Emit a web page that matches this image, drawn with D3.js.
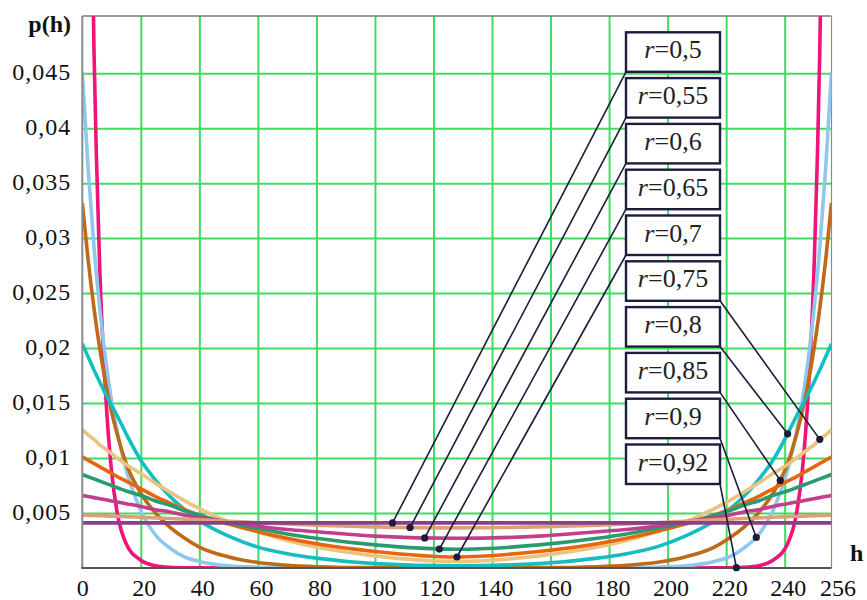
<!DOCTYPE html>
<html><head><meta charset="utf-8">
<script src="https://cdn.jsdelivr.net/npm/d3@7"></script>
<style>body{margin:0;background:#fff;} svg{display:block;} text{font-family:"Liberation Serif","Tinos","Times New Roman",serif;}</style>
</head><body>
<svg id="chart" width="867" height="600"></svg>
<script>
// ---------- data ----------
const hValues = [0,2,4,6,8,10,12,15,20,25,30,35,40,50,60,70,80,100,128,156,176,186,196,206,216,221,226,231,236,241,244,246,248,250,252,254,256];
const xTickValues = [0,20,40,60,80,100,120,140,160,180,200,220,240,256];
const yTickValues = [0.005,0.01,0.015,0.02,0.025,0.03,0.035,0.04,0.045];
const rLabels = ["0,5","0,55","0,6","0,65","0,7","0,75","0,8","0,85","0,9","0,92"];
const dotH = [106,112,117,122,128,252,241,238.5,230.3,223.5];

const p050 = [0.0041,0.0041,0.0041,0.0041,0.0041,0.0041,0.0041,0.0041,0.0041,0.0041,0.0041,0.0041,0.0041,0.0041,0.0041,0.0041,0.0041,0.0041,0.0041,
              0.0041,0.0041,0.0041,0.0041,0.0041,0.0041,0.0041,0.0041,0.0041,0.0041,0.0041,0.0041,0.0041,0.0041,0.0041,0.0041,0.0041,0.0041];
const p055 = [0.0048,0.00479,0.00478,0.00476,0.00474,0.00472,0.0047,0.00467,0.00462,0.00456,0.0045,0.00444,0.00438,0.00425,0.00412,0.004,0.0039,0.00374,0.00365,
              0.00374,0.0039,0.004,0.00412,0.00425,0.00438,0.00444,0.0045,0.00456,0.00462,0.00467,0.0047,0.00472,0.00474,0.00476,0.00478,0.00479,0.0048];
const p060 = [0.0066,0.0065,0.0064,0.0063,0.0062,0.0061,0.006,0.00585,0.0056,0.0053,0.0051,0.0048,0.0046,0.0042,0.0038,0.0035,0.0033,0.0029,0.0027,
              0.0029,0.0033,0.0035,0.0038,0.0042,0.0046,0.0048,0.0051,0.0053,0.0056,0.00585,0.006,0.0061,0.0062,0.0063,0.0064,0.0065,0.0066];
const p065 = [0.0085,0.0083,0.0081,0.0079,0.0077,0.0075,0.0073,0.007,0.0066,0.0061,0.0057,0.0052,0.0048,0.0041,0.0036,0.0031,0.0027,0.0021,0.0017,
              0.0021,0.0027,0.0031,0.0036,0.0041,0.0048,0.0052,0.0057,0.0061,0.0066,0.007,0.0073,0.0075,0.0077,0.0079,0.0081,0.0083,0.0085];
const p070 = [0.0101,0.0098,0.0095,0.0092,0.0089,0.0086,0.0083,0.0079,0.0072,0.0065,0.0059,0.0053,0.0048,0.004,0.0033,0.0027,0.0022,0.0015,0.001,
              0.0015,0.0022,0.0027,0.0033,0.004,0.0048,0.0053,0.0059,0.0065,0.0072,0.0079,0.0083,0.0086,0.0089,0.0092,0.0095,0.0098,0.0101];
const p075 = [0.0126,0.0121,0.0117,0.0112,0.0108,0.0104,0.01,0.0094,0.0086,0.0077,0.0069,0.0061,0.0054,0.0042,0.0033,0.0025,0.0019,0.0011,0.0006,
              0.0011,0.0019,0.0025,0.0033,0.0042,0.0054,0.0061,0.0069,0.0077,0.0086,0.0094,0.01,0.0104,0.0108,0.0112,0.0117,0.0121,0.0126];
const p080 = [0.0204,0.0192,0.018,0.0169,0.0158,0.0148,0.0138,0.0122,0.0098,0.008,0.0065,0.0053,0.0043,0.0029,0.0019,0.0013,0.0009,0.0004,0.0002,
              0.0004,0.0009,0.0013,0.0019,0.0029,0.0043,0.0053,0.0065,0.008,0.0098,0.0122,0.0138,0.0148,0.0158,0.0169,0.018,0.0192,0.0204];
const p085 = [0.0332,0.028,0.0236,0.0199,0.0168,0.0142,0.0121,0.0095,0.0068,0.005,0.0037,0.0027,0.0019,0.001,0.0005,0.00025,0.00012,0.00003,0.00001,
              0.00003,0.00012,0.00025,0.0005,0.001,0.0019,0.0027,0.0037,0.005,0.0068,0.0095,0.0121,0.0142,0.0168,0.0199,0.0236,0.028,0.0332];
const p090 = [0.0451,0.0363,0.0292,0.0235,0.0189,0.0152,0.0123,0.0089,0.0052,0.003,0.0018,0.001,0.0006,0.0002,0.00007,0.00003,0.00001,0,0,
              0,0.00001,0.00003,0.00007,0.0002,0.0006,0.001,0.0018,0.003,0.0052,0.0089,0.0123,0.0152,0.0189,0.0235,0.0292,0.0363,0.0451];
const p092 = [0.14,0.082,0.047,0.027,0.0157,0.0088,0.0049,0.0022,0.0007,0.0002,0.00006,0.00002,0.00001,0,0,0,0,0,0,
              0,0,0,0,0,0.00001,0.00002,0.00006,0.0002,0.0007,0.0022,0.0049,0.0088,0.0157,0.027,0.047,0.082,0.14];

const seriesList = [p050,p055,p060,p065,p070,p075,p080,p085,p090,p092];
const seriesColors = ["#8a3f87","#d9a27a","#c23f8e","#2a9a70","#e8650f","#eec27f","#14bec0","#bf6a18","#8ec8ec","#f0147a"];

// ---------- drawing ----------
const svg = d3.select("#chart");
const x = d3.scaleLinear().domain([0,256]).range([82.3,831.5]);
const y = d3.scaleLinear().domain([0,0.0502]).range([568,16]);
const green = "#3fdc5f";

// gridlines
const gx = svg.append("g").attr("transform","translate(0,568)")
  .call(d3.axisBottom(x).tickValues(xTickValues.filter(t=>t>0&&t<256)).tickSize(-552).tickFormat(""));
gx.select(".domain").remove();
gx.selectAll("line").attr("stroke",green).attr("stroke-width",2);
const gy = svg.append("g").attr("transform","translate(82.3,0)")
  .call(d3.axisLeft(y).tickValues(yTickValues).tickSize(-(831.5-82.3)).tickFormat(""));
gy.select(".domain").remove();
gy.selectAll("line").attr("stroke",green).attr("stroke-width",2);

// frame
svg.append("line").attr("x1",82.3).attr("x2",831.5).attr("y1",16).attr("y2",16).attr("stroke","#7a7a7a").attr("stroke-width",1.5);
svg.append("line").attr("x1",831.5).attr("x2",831.5).attr("y1",16).attr("y2",568).attr("stroke","#9a8a6a").attr("stroke-width",1.2);

// curves
svg.append("defs").append("clipPath").attr("id","plotclip").append("rect")
  .attr("x",82.3).attr("y",16).attr("width",831.5-82.3).attr("height",552);
const line = d3.line().x(d=>x(d[0])).y(d=>y(d[1])).curve(d3.curveMonotoneX);
const curveG = svg.append("g").attr("clip-path","url(#plotclip)");
const paths = [];
for (let i = seriesList.length-1; i >= 0; i--) {
  const pts = hValues.map((h,j)=>[h, seriesList[i][j]]);
  paths[i] = curveG.append("path").attr("d", line(pts)).attr("fill","none")
    .attr("stroke", seriesColors[i]).attr("stroke-width",3.6).attr("stroke-linejoin","round");
}

// axes lines
svg.append("line").attr("x1",82.3).attr("x2",82.3).attr("y1",16).attr("y2",568).attr("stroke","#8a8a8a").attr("stroke-width",2);
svg.append("line").attr("x1",81.3).attr("x2",831.5).attr("y1",568).attr("y2",568).attr("stroke","#555").attr("stroke-width",2);

// tick labels
const ax = svg.append("g").attr("transform","translate(0,568)")
  .call(d3.axisBottom(x).tickValues(xTickValues).tickSize(0).tickPadding(11).tickFormat(d=>String(d)));
ax.select(".domain").remove();
ax.selectAll("text").attr("font-size",24).attr("fill","#111")
  .attr("dx", d => d===256 ? 6 : (d===0 ? 0 : 3));
const ay = svg.append("g").attr("transform","translate(82.3,0)")
  .call(d3.axisLeft(y).tickValues(yTickValues).tickSize(0).tickPadding(11).tickFormat(d=>d3.format(".3~f")(d).replace(".",",")));
ay.select(".domain").remove();
ay.selectAll("text").attr("font-size",24).attr("letter-spacing",1).attr("fill","#111").attr("dy","0.25em");

svg.append("text").attr("x",71).attr("y",32).attr("text-anchor","end")
  .attr("font-size",24).attr("font-weight","bold").attr("fill","#111").text("p(h)");
svg.append("text").attr("x",850).attr("y",561)
  .attr("font-size",24).attr("font-weight","bold").attr("fill","#111").text("h");

// find point on a path at given x
function pointAtX(pathNode, px) {
  const L = pathNode.getTotalLength();
  let lo = 0, hi = L;
  for (let k = 0; k < 40; k++) {
    const mid = (lo+hi)/2;
    const p = pathNode.getPointAtLength(mid);
    if (p.x < px) lo = mid; else hi = mid;
  }
  return pathNode.getPointAtLength((lo+hi)/2);
}

// labels with leaders
const navy = "#1c1c3c";
const boxX = 626, boxW = 94, boxH = 39.5, boxTop0 = 32.3, boxStep = 45.8;
const annG = svg.append("g");
rLabels.forEach((lab,i)=>{
  const top = boxTop0 + i*boxStep;
  const pt = pointAtX(paths[i].node(), x(dotH[i]));
  const sx = i < 5 ? boxX : boxX + boxW;
  const sy = top + boxH;
  annG.append("line").attr("x1",sx).attr("y1",sy).attr("x2",pt.x).attr("y2",pt.y)
    .attr("stroke",navy).attr("stroke-width",1.6);
  annG.append("circle").attr("cx",pt.x).attr("cy",pt.y).attr("r",3.6).attr("fill",navy);
  annG.append("rect").attr("x",boxX).attr("y",top).attr("width",boxW).attr("height",boxH)
    .attr("fill","#fff").attr("stroke",navy).attr("stroke-width",2.4);
  const t = annG.append("text").attr("x",boxX+boxW/2).attr("y",top+26).attr("text-anchor","middle")
    .attr("font-size",26).attr("fill","#222");
  t.append("tspan").attr("font-style","italic").text("r");
  t.append("tspan").text("=" + lab);
});
</script>
</body></html>
